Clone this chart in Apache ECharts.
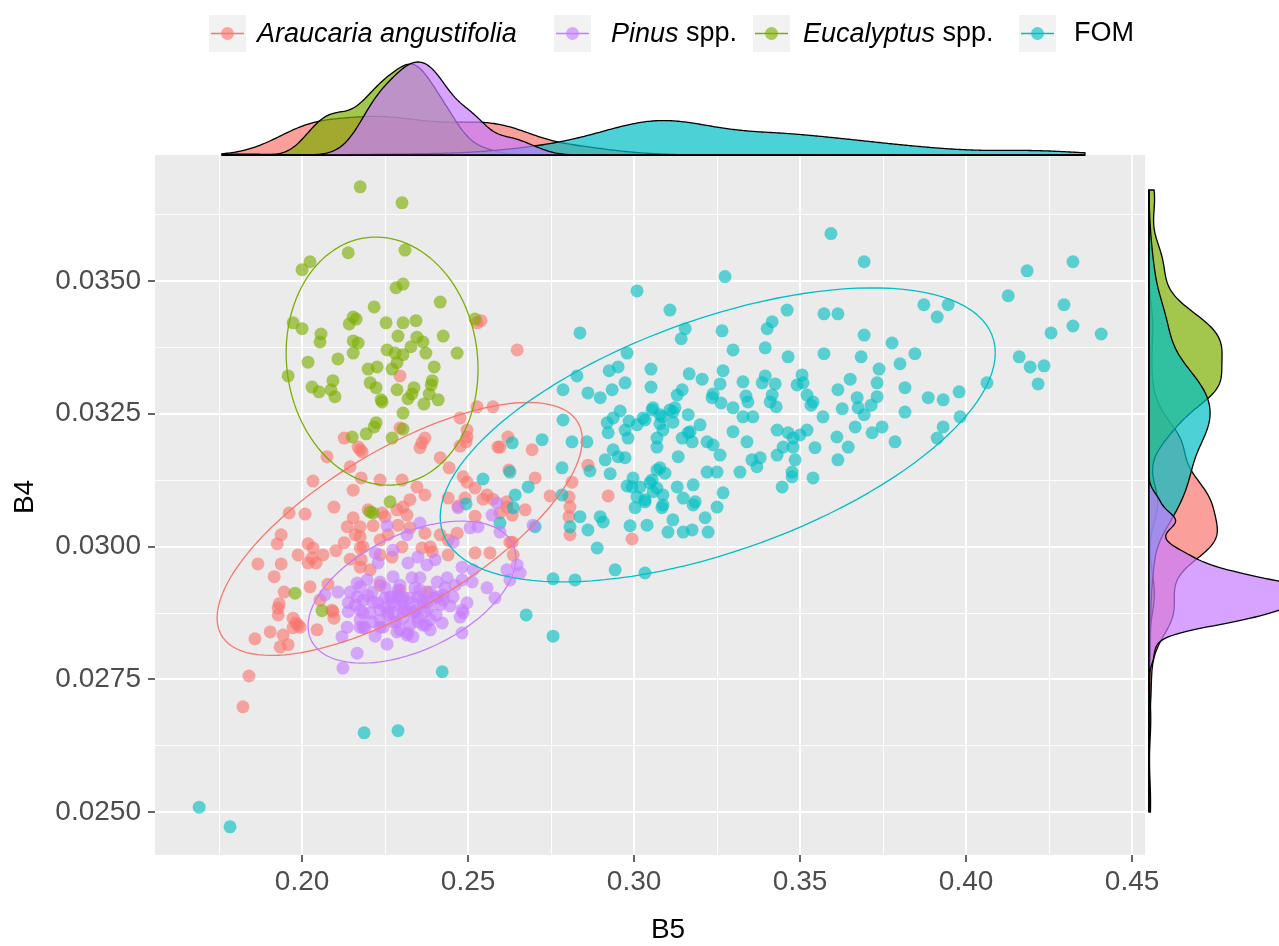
<!DOCTYPE html>
<html>
<head>
<meta charset="utf-8">
<script src="https://cdn.jsdelivr.net/npm/echarts@6/dist/echarts.min.js"></script>
<style>
  html, body { margin: 0; padding: 0; background: #ffffff; }
  #chart { width: 1279px; height: 946px; }
</style>
</head>
<body>
<div id="chart"></div>
<script>
// Group order follows the factor levels (drawing order); colours are the ggplot hue palette.
const groupNames = ['Araucaria angustifolia', 'Eucalyptus spp.', 'FOM', 'Pinus spp.'];
const groupColors = ['#F8766D', '#7CAE00', '#00BFC4', '#C77CFF'];

// B5 (x) and B4 (y) reflectance per sample
const araucariaPoints = [
  [0.2127,0.03204],[0.2169,0.03187],[0.2181,0.03178],[0.2075,0.03169],[0.2145,0.03150],[0.2178,0.03129],[0.2033,0.03123],[0.2154,0.03106],
  [0.2096,0.03074],[0.1961,0.03063],[0.2009,0.03061],[0.2154,0.03054],[0.2136,0.03037],[0.2199,0.03069],[0.1937,0.03022],[0.1925,0.03005],
  [0.2018,0.03005],[0.2033,0.02997],[0.2160,0.03022],[0.2127,0.03007],[0.2184,0.02999],[0.2102,0.02992],[0.2063,0.02984],[0.1988,0.02984],
  [0.2030,0.02978],[0.2042,0.02969],[0.2018,0.02969],[0.2145,0.02976],[0.2178,0.02975],[0.1867,0.02967],[0.1937,0.02967],[0.1916,0.02943],
  [0.2024,0.02924],[0.1946,0.02914],[0.2078,0.02929],[0.1931,0.02892],[0.1928,0.02884],[0.1928,0.02871],[0.2054,0.02899],[0.2090,0.02880],
  [0.2096,0.02865],[0.1973,0.02865],[0.1982,0.02856],[0.1994,0.02848],[0.1973,0.02847],[0.1904,0.02839],[0.2045,0.02843],[0.1858,0.02826],
  [0.1943,0.02833],[0.1958,0.02815],[0.1934,0.02811],[0.1840,0.02756],[0.1822,0.02698],[0.1988,0.02852],[0.2093,0.02877],
  [0.2575,0.03263],[0.2527,0.03263],[0.2476,0.03242],[0.2370,0.03204],[0.2361,0.03195],[0.2355,0.03186],[0.2497,0.03206],[0.2494,0.03197],
  [0.2476,0.03189],[0.2590,0.03187],[0.2693,0.03182],[0.2416,0.03167],[0.2443,0.03148],[0.2485,0.03131],[0.2497,0.03121],[0.2702,0.03129],
  [0.2521,0.03110],[0.2557,0.03097],[0.2545,0.03089],[0.2575,0.03089],[0.2235,0.03125],[0.2301,0.03125],[0.2346,0.03112],[0.2370,0.03097],
  [0.2325,0.03088],[0.2440,0.03091],[0.2491,0.03091],[0.2470,0.03076],[0.2521,0.03057],[0.2617,0.03084],[0.2633,0.03059],[0.2672,0.03069],
  [0.2304,0.03074],[0.2286,0.03069],[0.2316,0.03059],[0.2241,0.03063],[0.2250,0.03056],[0.2289,0.03040],[0.2325,0.03035],[0.2214,0.03039],
  [0.2259,0.03022],[0.2175,0.03018],[0.2467,0.03025],[0.2416,0.03022],[0.2370,0.03025],[0.2440,0.03012],[0.2386,0.02999],[0.2392,0.02990],
  [0.2361,0.02997],[0.2301,0.02999],[0.2235,0.03012],[0.2175,0.02997],[0.2235,0.02984],[0.2271,0.02980],[0.2440,0.02984],[0.2521,0.02988],
  [0.2566,0.02988],[0.2633,0.03008],[0.2205,0.02956],[0.2175,0.02961],[0.2295,0.02918],[0.2376,0.02914],[0.2175,0.03037],[0.2235,0.02927],
  [0.2620,0.03206],[0.2596,0.03187],[0.2623,0.03144],[0.2747,0.03095],[0.2804,0.03093],[0.2813,0.03121],[0.2861,0.03153],[0.2807,0.03074],
  [0.2804,0.03056],[0.2807,0.03022],[0.2922,0.03095],[0.2994,0.03014],[0.2617,0.03074],[0.2626,0.03008],[0.2636,0.02984],[0.2596,0.03063],
  [0.2295,0.03321],[0.2527,0.03421],[0.2539,0.03425],[0.2648,0.03370],[0.2175,0.03182],[0.2295,0.03223],[0.2497,0.03219]
];

const eucalyptusPoints = [
  [0.2175,0.03677],[0.2301,0.03647],[0.2310,0.03558],[0.2139,0.03553],[0.2024,0.03536],[0.2000,0.03521],[0.2304,0.03494],[0.2283,0.03487],
  [0.2416,0.03460],[0.2217,0.03451],[0.1973,0.03421],[0.2000,0.03410],[0.2154,0.03432],[0.2163,0.03428],[0.2142,0.03419],[0.2253,0.03421],
  [0.2304,0.03421],[0.2343,0.03425],[0.2521,0.03428],[0.2057,0.03400],[0.2054,0.03385],[0.2289,0.03396],[0.2346,0.03394],[0.2364,0.03385],
  [0.2425,0.03396],[0.2154,0.03387],[0.2169,0.03383],[0.2328,0.03376],[0.2256,0.03370],[0.2154,0.03364],[0.2280,0.03364],[0.2304,0.03361],
  [0.2373,0.03364],[0.2467,0.03364],[0.2018,0.03347],[0.2108,0.03353],[0.2286,0.03346],[0.2199,0.03334],[0.2226,0.03338],[0.2271,0.03334],
  [0.2398,0.03338],[0.1958,0.03321],[0.2093,0.03312],[0.2205,0.03308],[0.2223,0.03299],[0.2030,0.03300],[0.2051,0.03291],[0.2087,0.03295],
  [0.2099,0.03282],[0.2286,0.03295],[0.2337,0.03299],[0.2331,0.03287],[0.2319,0.03278],[0.2392,0.03312],[0.2389,0.03304],[0.2383,0.03287],
  [0.2410,0.03276],[0.2367,0.03268],[0.2238,0.03276],[0.2304,0.03251],[0.2223,0.03233],[0.2217,0.03225],[0.2304,0.03221],[0.2241,0.03272],
  [0.2271,0.03204],[0.2151,0.03206],[0.2205,0.03065],[0.1979,0.02912],[0.2060,0.02879],[0.2265,0.03084],[0.2214,0.03063],[0.2193,0.03212]
];

const fomPoints = [
  [0.3274,0.03508],[0.3009,0.03481],[0.3108,0.03445],[0.2837,0.03402],[0.3154,0.03410],[0.3142,0.03391],[0.3265,0.03406],[0.3461,0.03445],
  [0.3416,0.03423],[0.3401,0.03410],[0.3395,0.03374],[0.3464,0.03357],[0.3298,0.03370],[0.2979,0.03364],[0.2952,0.03338],[0.2925,0.03331],
  [0.3051,0.03334],[0.2828,0.03321],[0.2786,0.03295],[0.2973,0.03308],[0.3051,0.03300],[0.3166,0.03325],[0.3205,0.03315],[0.3268,0.03331],
  [0.3259,0.03306],[0.3328,0.03310],[0.3395,0.03321],[0.3386,0.03308],[0.3425,0.03306],[0.2861,0.03289],[0.2898,0.03280],[0.2934,0.03295],
  [0.3145,0.03295],[0.3130,0.03285],[0.3238,0.03287],[0.3235,0.03280],[0.3262,0.03270],[0.3337,0.03283],[0.3343,0.03272],[0.3416,0.03285],
  [0.3410,0.03272],[0.3428,0.03263],[0.2958,0.03255],[0.3057,0.03261],[0.3108,0.03257],[0.3123,0.03261],[0.3163,0.03248],[0.3298,0.03261],
  [0.2937,0.03242],[0.3027,0.03242],[0.3084,0.03244],[0.3328,0.03244],[0.3358,0.03244],
  [0.3593,0.03589],[0.3693,0.03536],[0.4127,0.03472],[0.3572,0.03438],[0.3614,0.03438],[0.3873,0.03455],[0.3946,0.03455],[0.3913,0.03432],
  [0.3693,0.03398],[0.3777,0.03383],[0.3572,0.03363],[0.3684,0.03357],[0.3846,0.03363],[0.3801,0.03344],[0.3738,0.03334],[0.3506,0.03323],
  [0.3491,0.03304],[0.3509,0.03308],[0.3651,0.03315],[0.3732,0.03308],[0.3816,0.03299],[0.3614,0.03295],[0.3521,0.03285],[0.3539,0.03272],
  [0.3533,0.03266],[0.3672,0.03280],[0.3732,0.03282],[0.3714,0.03266],[0.3627,0.03259],[0.3675,0.03261],[0.3886,0.03280],[0.3931,0.03276],
  [0.3979,0.03291],[0.4063,0.03308],[0.3816,0.03253],[0.3693,0.03248],[0.3569,0.03244],[0.3982,0.03244],
  [0.4322,0.03536],[0.4184,0.03519],[0.4295,0.03455],[0.4322,0.03415],[0.4256,0.03402],[0.4407,0.03400],[0.4160,0.03357],[0.4193,0.03338],
  [0.4235,0.03340],[0.4217,0.03306],
  [0.2786,0.03238],[0.2919,0.03233],[0.2922,0.03214],[0.2973,0.03219],[0.2982,0.03204],[0.3009,0.03229],[0.3033,0.03238],[0.3054,0.03257],
  [0.3078,0.03248],[0.3087,0.03219],[0.3069,0.03204],[0.3069,0.03187],[0.3117,0.03253],[0.3117,0.03234],[0.3169,0.03216],[0.3145,0.03204],
  [0.3175,0.03197],[0.2937,0.03182],[0.2952,0.03169],[0.2973,0.03167],[0.2913,0.03163],[0.3133,0.03169],[0.2723,0.03201],[0.2813,0.03197],
  [0.2858,0.03197],[0.2633,0.03195],[0.2783,0.03148],[0.2867,0.03142],[0.2928,0.03137],[0.2626,0.03140],[0.2681,0.03112],[0.2783,0.03097],
  [0.2642,0.03097],[0.2997,0.03129],[0.2994,0.03112],[0.2979,0.03114],[0.3018,0.03112],[0.3054,0.03125],[0.3069,0.03110],[0.3078,0.03148],
  [0.3093,0.03138],[0.3130,0.03112],[0.3148,0.03091],[0.3178,0.03116],[0.3178,0.03078],[0.3009,0.03093],[0.3003,0.03073],[0.3033,0.03084],
  [0.3057,0.03103],[0.3087,0.03078],[0.2636,0.03073],[0.2837,0.03056],[0.2898,0.03056],[0.2907,0.03046],[0.2861,0.03031],[0.2807,0.03037],
  [0.2988,0.03039],[0.3039,0.03040],[0.3102,0.03027],[0.3148,0.03027],[0.3175,0.03031],[0.2889,0.02997],[0.2943,0.02956],[0.3033,0.02950],
  [0.2756,0.02939],[0.2822,0.02937],[0.2702,0.03037],
  [0.3069,0.03144],[0.3048,0.03120],[0.3087,0.03097],[0.3033,0.03088],[0.3084,0.03073],[0.3184,0.03084],[0.3117,0.03050],[0.3214,0.03054],
  [0.3223,0.03027],[0.3268,0.03101],[0.3250,0.03074],[0.3220,0.03140],[0.3250,0.03140],[0.3163,0.03214],[0.3220,0.03197],[0.3238,0.03191],
  [0.3259,0.03172],[0.3319,0.03140],[0.3355,0.03163],[0.3370,0.03150],[0.3380,0.03167],[0.3340,0.03197],[0.3298,0.03216],[0.3431,0.03219],
  [0.3464,0.03214],[0.3479,0.03204],[0.3500,0.03210],[0.3521,0.03219],[0.3431,0.03172],[0.3449,0.03187],[0.3479,0.03187],[0.3485,0.03163],
  [0.3476,0.03140],[0.3476,0.03131],[0.3539,0.03129],[0.3446,0.03112],[0.3545,0.03186],[0.3614,0.03163],[0.3645,0.03187],[0.3611,0.03206],
  [0.3666,0.03225],[0.3717,0.03214],[0.3747,0.03225],[0.3786,0.03197],[0.3913,0.03204],[0.3931,0.03225],
  [0.2422,0.02764],[0.2187,0.02649],[0.2289,0.02653],[0.1690,0.02509],[0.1783,0.02472],[0.2675,0.02871],[0.2545,0.03127],[0.2494,0.03080],
  [0.2596,0.03044],[0.2756,0.02831],[0.2985,0.03236],[0.3078,0.03231],[0.3199,0.03229]
];

const pinusPoints = [
  [0.2166,0.02931],[0.2108,0.02914],[0.2069,0.02909],[0.2139,0.02894],[0.2184,0.02899],[0.2175,0.02862],[0.2136,0.02848],[0.2120,0.02830],
  [0.2184,0.02847],[0.2166,0.02799],[0.2123,0.02771],[0.2205,0.02875],[0.2256,0.02816],[0.2211,0.02858],[0.2244,0.02848],[0.2286,0.02839],
  [0.2316,0.02833],[0.2334,0.02830],[0.2364,0.02852],[0.2386,0.02843],[0.2422,0.02856],[0.2482,0.02837],[0.2497,0.02894],[0.2485,0.02875],
  [0.2476,0.02867],[0.2364,0.02894],[0.2334,0.02875],[0.2407,0.02905],[0.2425,0.02909],[0.2304,0.02905],[0.2271,0.02905],[0.2184,0.02875],
  [0.2166,0.02905],[0.2470,0.03073],[0.2587,0.03082],[0.2572,0.03059],[0.2596,0.03027],[0.2696,0.03040],[0.2506,0.03035],[0.2530,0.03037],
  [0.2455,0.03008],[0.2355,0.03044],[0.2256,0.03039],[0.2316,0.03022],[0.2274,0.02993],[0.2220,0.02988],[0.2349,0.02980],[0.2401,0.02975],
  [0.2319,0.02969],[0.2376,0.02965],[0.2229,0.02969],[0.2482,0.02961],[0.2515,0.02956],[0.2648,0.02965],[0.2617,0.02956],[0.2657,0.02950],
  [0.2626,0.02937],[0.2437,0.02941],[0.2482,0.02937],[0.2512,0.02933],[0.2407,0.02933],[0.2355,0.02941],[0.2331,0.02941],[0.2274,0.02943],
  [0.2235,0.02933],[0.2196,0.02937],[0.2175,0.02924],[0.2211,0.02914],[0.2250,0.02922],[0.2289,0.02918],[0.2340,0.02922],[0.2386,0.02914],
  [0.2431,0.02922],[0.2461,0.02927],[0.2557,0.02922],[0.2581,0.02903],[0.2301,0.02899],[0.2349,0.02905],[0.2376,0.02895],[0.2425,0.02899],
  [0.2455,0.02905],[0.2482,0.02880],[0.2214,0.02895],[0.2265,0.02905],[0.2175,0.02880],[0.2235,0.02880],[0.2274,0.02875],[0.2340,0.02877],
  [0.2349,0.02858],[0.2386,0.02862],[0.2274,0.02858],[0.2175,0.02848],[0.2190,0.02847],[0.2235,0.02848],[0.2295,0.02843],[0.2319,0.02837],
  [0.2145,0.02914],[0.2160,0.02890],[0.2199,0.02907],[0.2229,0.02894],[0.2250,0.02886],[0.2280,0.02890],[0.2310,0.02880],[0.2325,0.02894],
  [0.2259,0.02871],[0.2304,0.02865],[0.2139,0.02877],[0.2220,0.02831],[0.2370,0.02877],[0.2446,0.02888],
  [0.2250,0.02903],[0.2271,0.02894],[0.2289,0.02907],[0.2307,0.02888],[0.2325,0.02903],[0.2343,0.02880],[0.2361,0.02899],[0.2380,0.02884],
  [0.2398,0.02903],[0.2259,0.02877],[0.2283,0.02858],[0.2304,0.02877],[0.2325,0.02852],[0.2349,0.02867],[0.2373,0.02852],[0.2404,0.02871],
  [0.2295,0.02927],[0.2355,0.02918],[0.2235,0.02862],[0.2416,0.02890]
];

const groupPoints = [araucariaPoints, eucalyptusPoints, fomPoints, pinusPoints];

// 95% ellipse per group: centre, half-extent along B5 and B4, and the B4 offset at the rightmost point
const ellipseCenters = [[0.2294, 0.03033], [0.2241, 0.03349], [0.3252, 0.03210], [0.2331, 0.02914]];
const ellipseHalfX = [0.0550, 0.0289, 0.0836, 0.0313];
const ellipseHalfY = [0.002382, 0.002335, 0.002768, 0.001337];
const ellipseRightOffsetY = [0.001676, -0.00015, 0.001544, 0.000640];

// Axis limits and breaks
const xLimits = [0.1557, 0.4539];
const yLimits = [0.02419, 0.03737];
const xBreaks = [0.20, 0.25, 0.30, 0.35, 0.40, 0.45];
const yBreaks = [0.0250, 0.0275, 0.0300, 0.0325, 0.0350];
const xMinorBreaks = [0.175, 0.225, 0.275, 0.325, 0.375, 0.425];
const yMinorBreaks = [0.02625, 0.02875, 0.03125, 0.03375, 0.03625];

const FONT = '"Liberation Sans", Arial, sans-serif';

function rgba(hex, a) {
  const n = parseInt(hex.slice(1), 16);
  return 'rgba(' + ((n >> 16) & 255) + ',' + ((n >> 8) & 255) + ',' + (n & 255) + ',' + a + ')';
}

function ellipsePath(i) {
  const c = ellipseCenters[i], sx = ellipseHalfX[i], sy = ellipseHalfY[i], r = ellipseRightOffsetY[i];
  const l22 = Math.sqrt(Math.max(sy * sy - r * r, 0));
  const pts = [];
  for (let k = 0; k <= 120; k++) {
    const t = 2 * Math.PI * k / 120;
    pts.push([c[0] + sx * Math.cos(t), c[1] + r * Math.cos(t) + l22 * Math.sin(t)]);
  }
  return pts;
}

// Gaussian kernel density with Silverman's rule-of-thumb bandwidth
function quantile(sorted, p) {
  const h = (sorted.length - 1) * p, lo = Math.floor(h);
  const hi = Math.min(lo + 1, sorted.length - 1);
  return sorted[lo] + (h - lo) * (sorted[hi] - sorted[lo]);
}
function density(values, lo, hi, n) {
  const N = values.length;
  const mean = values.reduce((a, b) => a + b, 0) / N;
  const sd = Math.sqrt(values.reduce((a, b) => a + (b - mean) * (b - mean), 0) / (N - 1));
  const s = values.slice().sort((a, b) => a - b);
  const iqr = quantile(s, 0.75) - quantile(s, 0.25);
  const bw = 0.9 * Math.min(sd, iqr / 1.34) * Math.pow(N, -0.2);
  const norm = 1 / (N * bw * Math.sqrt(2 * Math.PI));
  const out = [];
  for (let i = 0; i < n; i++) {
    const x = lo + (hi - lo) * i / (n - 1);
    let d = 0;
    for (const v of values) { const z = (x - v) / bw; d += Math.exp(-0.5 * z * z); }
    out.push([x, d * norm]);
  }
  return out;
}

const allX = groupPoints.flat().map(p => p[0]);
const allY = groupPoints.flat().map(p => p[1]);
const xLo = Math.min(...allX), xHi = Math.max(...allX);
const yLo = Math.min(...allY), yHi = Math.max(...allY);

const xDens = groupPoints.map(g => density(g.map(p => p[0]), xLo, xHi, 512));
const yDens = groupPoints.map(g => density(g.map(p => p[1]), yLo, yHi, 512));
const xDensMax = Math.max(...xDens.flat().map(p => p[1]));
const yDensMax = Math.max(...yDens.flat().map(p => p[1]));

function densitySeries(i, curve, vertical) {
  const gi = vertical ? 2 : 1;
  const data = vertical ? curve.map(p => [p[1], p[0]]) : curve;
  return {
    type: 'custom',
    xAxisIndex: gi, yAxisIndex: gi,
    silent: true,
    clip: false,
    z: 2 + i,
    data: data,
    renderItem: function (params, api) {
      if (params.dataIndex !== 0) return null;
      const pts = data.map(p => api.coord(p));
      if (vertical) {
        pts.push(api.coord([0, data[data.length - 1][1]]));
        pts.unshift(api.coord([0, data[0][1]]));
      } else {
        pts.push(api.coord([data[data.length - 1][0], 0]));
        pts.unshift(api.coord([data[0][0], 0]));
      }
      return {
        type: 'polygon',
        shape: { points: pts },
        style: { fill: rgba(groupColors[i], 0.7), stroke: '#000000', lineWidth: 1.3 }
      };
    }
  };
}

const series = [];

// panel grid lines
series.push({
  type: 'lines', coordinateSystem: 'cartesian2d', xAxisIndex: 0, yAxisIndex: 0,
  silent: true, z: 1,
  lineStyle: { color: '#ffffff', width: 0.9, opacity: 1 },
  data: xMinorBreaks.map(v => ({ coords: [[v, yLimits[0]], [v, yLimits[1]]] }))
    .concat(yMinorBreaks.map(v => ({ coords: [[xLimits[0], v], [xLimits[1], v]] })))
});
series.push({
  type: 'lines', coordinateSystem: 'cartesian2d', xAxisIndex: 0, yAxisIndex: 0,
  silent: true, z: 1,
  lineStyle: { color: '#ffffff', width: 1.8, opacity: 1 },
  data: xBreaks.map(v => ({ coords: [[v, yLimits[0]], [v, yLimits[1]]] }))
    .concat(yBreaks.map(v => ({ coords: [[xLimits[0], v], [xLimits[1], v]] })))
});

groupPoints.forEach((pts, i) => {
  series.push({
    name: groupNames[i], type: 'scatter', xAxisIndex: 0, yAxisIndex: 0,
    data: pts, symbolSize: 13, z: 3,
    itemStyle: { color: groupColors[i], opacity: 0.62 },
    emphasis: { disabled: true }
  });
});

groupPoints.forEach((pts, i) => {
  series.push({
    type: 'line', xAxisIndex: 0, yAxisIndex: 0, silent: true, z: 4,
    data: ellipsePath(i), showSymbol: false, symbol: 'none', smooth: false,
    lineStyle: { color: groupColors[i], width: 1.3 }
  });
});

xDens.forEach((c, i) => series.push(densitySeries(i, c, false)));
yDens.forEach((c, i) => series.push(densitySeries(i, c, true)));

// legend drawn as keys with a line and a point, as in the ggplot guide
const legendOrder = [0, 3, 1, 2];
const legendLabels = ['{i|Araucaria angustifolia}', '{i|Pinus} spp.', '{i|Eucalyptus} spp.', 'FOM'];
const keyLeft = [209, 554, 753, 1019];
const textLeft = [257, 611, 803, 1074];
const graphics = [];
legendOrder.forEach((gi, k) => {
  const x0 = keyLeft[k];
  graphics.push({ type: 'rect', left: x0, top: 15, shape: { width: 37, height: 37 }, style: { fill: '#F2F2F2' }, silent: true });
  graphics.push({ type: 'line', shape: { x1: x0 + 2, y1: 33.5, x2: x0 + 35, y2: 33.5 }, style: { stroke: groupColors[gi], lineWidth: 1.3 }, silent: true });
  graphics.push({ type: 'circle', shape: { cx: x0 + 18.5, cy: 33.5, r: 6.5 }, style: { fill: rgba(groupColors[gi], 0.62) }, silent: true });
  graphics.push({
    type: 'text', x: textLeft[k], y: 34, silent: true,
    style: {
      text: legendLabels[k], fill: '#000000', fontSize: 27, fontFamily: FONT,
      verticalAlign: 'middle', textVerticalAlign: 'middle',
      rich: { i: { fontStyle: 'italic', fontSize: 27, fontFamily: FONT, fill: '#000000' } }
    }
  });
});

const hiddenAxis = { show: false, splitLine: { show: false } };

const option = {
  animation: false,
  backgroundColor: '#ffffff',
  grid: [
    { left: 155, right: 134, top: 155, bottom: 91, show: true, backgroundColor: '#EBEBEB', borderWidth: 0, outerBoundsMode: 'none', containLabel: false },
    { left: 222, right: 194, top: 62, bottom: 791, outerBoundsMode: 'none', containLabel: false },
    { left: 1149, right: 0, top: 190, bottom: 134, outerBoundsMode: 'none', containLabel: false }
  ],
  xAxis: [
    {
      type: 'value', gridIndex: 0, min: xLimits[0], max: xLimits[1],
      splitLine: { show: false }, axisLine: { show: false },
      axisTick: { show: true, customValues: xBreaks, length: 7, lineStyle: { color: '#333333', width: 1.5 } },
      axisLabel: { customValues: xBreaks, formatter: v => v.toFixed(2), color: '#4D4D4D', fontSize: 28, fontFamily: FONT, margin: 13 },
      name: 'B5', nameLocation: 'middle', nameGap: 61,
      nameTextStyle: { color: '#000000', fontSize: 28, fontFamily: FONT, padding: [0, 0, 0, 36] }
    },
    Object.assign({ type: 'value', gridIndex: 1, min: xLo, max: xHi }, hiddenAxis),
    Object.assign({ type: 'value', gridIndex: 2, min: 0, max: yDensMax * 0.77 }, hiddenAxis)
  ],
  yAxis: [
    {
      type: 'value', gridIndex: 0, min: yLimits[0], max: yLimits[1],
      splitLine: { show: false }, axisLine: { show: false },
      axisTick: { show: true, customValues: yBreaks, length: 7, lineStyle: { color: '#333333', width: 1.5 } },
      axisLabel: { customValues: yBreaks, formatter: v => v.toFixed(4), color: '#4D4D4D', fontSize: 28, fontFamily: FONT, margin: 14 },
      name: 'B4', nameLocation: 'middle', nameGap: 116, nameRotate: 90,
      nameTextStyle: { color: '#000000', fontSize: 28, fontFamily: FONT, padding: [0, 0, 0, 16] }
    },
    Object.assign({ type: 'value', gridIndex: 1, min: 0, max: xDensMax }, hiddenAxis),
    Object.assign({ type: 'value', gridIndex: 2, min: yLo, max: yHi }, hiddenAxis)
  ],
  graphic: graphics,
  series: series
};

const chart = echarts.init(document.getElementById('chart'), null, { renderer: 'canvas' });
chart.setOption(option);
</script>
</body>
</html>
